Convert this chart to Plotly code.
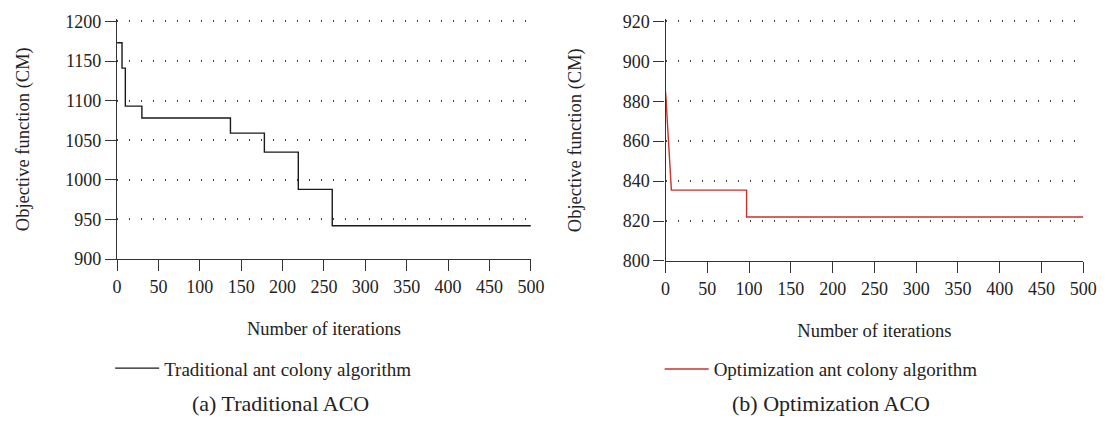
import plotly.graph_objects as go

# ---- data ----
trad_iter = [0, 6, 10, 30, 137, 178, 219, 260, 500]
trad_obj = [1173, 1141, 1093, 1078, 1059, 1035, 988, 942, 942]

opt_iter = [0, 7, 97, 97, 500]
opt_obj = [885, 835.5, 835.5, 822, 822]

x_ticks = [0, 50, 100, 150, 200, 250, 300, 350, 400, 450, 500]
left_y_ticks = [900, 950, 1000, 1050, 1100, 1150, 1200]
right_y_ticks = [800, 820, 840, 860, 880, 900, 920]

W, H = 1114, 430
FONT = "Liberation Serif"
AX = "#333333"
TXT = "#222222"

def px_x(p):
    return p / W

def px_y(p):
    return 1 - p / H

# small headroom above the top tick so its dotted gridline is drawn
L_LO, L_HI, L_PAD = 900, 1200, 2.5
R_LO, R_HI, R_PAD = 800, 920, 1.0
l_top = 14 - L_PAD * (262 - 14) / (L_HI - L_LO)
r_top = 14 - R_PAD * (264 - 14) / (R_HI - R_LO)

fig = go.Figure()
fig.add_trace(go.Scatter(x=trad_iter, y=trad_obj, mode="lines",
                         line=dict(color="#1a1a1a", width=1.4, shape="hv"),
                         name="Traditional ant colony algorithm", xaxis="x", yaxis="y", legend="legend"))
fig.add_trace(go.Scatter(x=opt_iter, y=opt_obj, mode="lines",
                         line=dict(color="#c8302a", width=1.4),
                         name="Optimization ant colony algorithm", xaxis="x2", yaxis="y2", legend="legend2"))

axis_common = dict(showline=True, linecolor=AX, linewidth=1.3, ticks="outside", ticklen=11, tickcolor=AX,
                   tickwidth=1.3, tickfont=dict(family=FONT, size=18, color=TXT), zeroline=False)
grid = dict(showgrid=True, gridcolor="#444", gridwidth=1.5, griddash="1px,11px")
xtitle = dict(text="Number of iterations", font=dict(family=FONT, size=18.5, color=TXT), standoff=26)
legfont = dict(family=FONT, size=19, color=TXT)

fig.update_layout(
    width=W, height=H, margin=dict(l=0, r=0, t=0, b=0),
    paper_bgcolor="white", plot_bgcolor="white",
    font=dict(family=FONT, color=TXT),
    xaxis=dict(domain=[px_x(114), px_x(535)], range=[0, 500], tickvals=x_ticks, showgrid=False, anchor="y",
               title=xtitle, **axis_common),
    yaxis=dict(domain=[px_y(262), px_y(l_top)], range=[L_LO, L_HI + L_PAD], tickvals=left_y_ticks, anchor="x",
               title=dict(text="Objective function (CM)", font=dict(family=FONT, size=18.5, color=TXT), standoff=30),
               **grid, **axis_common),
    xaxis2=dict(domain=[px_x(672), px_x(1097)], range=[0, 500], tickvals=x_ticks, showgrid=False, anchor="y2",
                title=xtitle, **axis_common),
    yaxis2=dict(domain=[px_y(264), px_y(r_top)], range=[R_LO, R_HI + R_PAD], tickvals=right_y_ticks, anchor="x2",
                title=dict(text="Objective function (CM)", font=dict(family=FONT, size=18.5, color=TXT), standoff=36),
                **grid, **axis_common),
    legend=dict(x=px_x(107), y=px_y(376), xanchor="left", yanchor="middle", bgcolor="rgba(0,0,0,0)",
                font=legfont, itemwidth=44),
    legend2=dict(x=px_x(666), y=px_y(377), xanchor="left", yanchor="middle", bgcolor="rgba(0,0,0,0)",
                 font=legfont, itemwidth=44),
    showlegend=True,
    annotations=[
        dict(text="(a) Traditional ACO", x=px_x(280), y=px_y(413), xref="paper", yref="paper",
             xanchor="center", yanchor="middle", showarrow=False, font=dict(family=FONT, size=22, color=TXT)),
        dict(text="(b) Optimization ACO", x=px_x(840), y=px_y(413), xref="paper", yref="paper",
             xanchor="center", yanchor="middle", showarrow=False, font=dict(family=FONT, size=22, color=TXT)),
    ],
)

fig.write_html("out.html", config={"displayModeBar": False},
               post_script="document.body.style.margin='0px';")
